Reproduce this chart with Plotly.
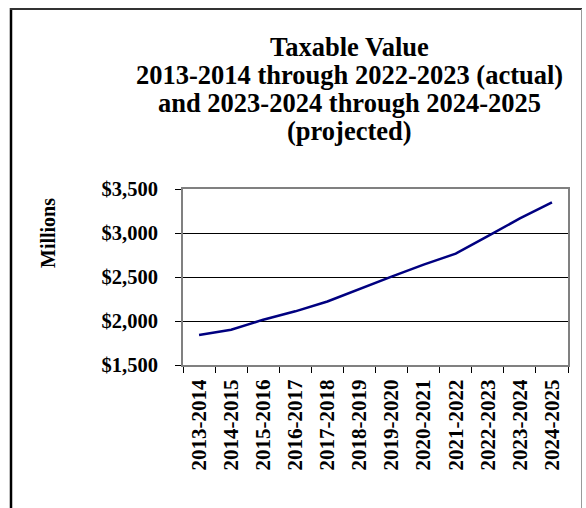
import plotly.graph_objects as go

# Fiscal years and taxable value (millions of dollars)
years = ["2013-2014", "2014-2015", "2015-2016", "2016-2017", "2017-2018", "2018-2019",
         "2019-2020", "2020-2021", "2021-2022", "2022-2023", "2023-2024", "2024-2025"]
taxable_value = [1842, 1900, 2015, 2110, 2222, 2365, 2505, 2640, 2765, 2965, 3165, 3348]

y_ticks = [1500, 2000, 2500, 3000, 3500]
y_tick_text = ["$1,500", "$2,000", "$2,500", "$3,000", "$3,500"]

title_lines = ["Taxable Value",
               "2013-2014 through 2022-2023 (actual)",
               "and 2023-2024 through 2024-2025",
               "(projected)"]

W, H = 586, 508
ML, MR, MT, MB = 183, 18, 189, 143
PW, PH = W - ML - MR, H - MT - MB
FONT = "Liberation Serif, Times New Roman, serif"


def px_x(px):
    return (px - ML) / PW


def px_y(py):
    return (H - MB - py) / PH


fig = go.Figure()
fig.add_trace(go.Scatter(
    x=years, y=taxable_value, mode="lines",
    line=dict(color="#000080", width=2.5),
    showlegend=False, hoverinfo="x+y",
))

annotations = []
for i, line in enumerate(title_lines):
    annotations.append(dict(
        text=f"<b>{line}</b>", xref="paper", yref="paper",
        x=px_x(349), y=px_y(47 + i * 28), xanchor="center", yanchor="middle",
        showarrow=False, font=dict(family=FONT, size=26.5, color="black"),
    ))
annotations.append(dict(
    text="<b>Millions</b>", xref="paper", yref="paper",
    x=px_x(48), y=px_y(233), xanchor="center", yanchor="middle",
    textangle=-90, showarrow=False, font=dict(family=FONT, size=20, color="black"),
))

# outer frame around the chart
shapes = [
    dict(type="line", xref="paper", yref="paper", x0=px_x(11), x1=px_x(11),
         y0=px_y(8), y1=px_y(530), line=dict(color="black", width=2.5)),
    dict(type="line", xref="paper", yref="paper", x0=px_x(10), x1=px_x(582),
         y0=px_y(9), y1=px_y(9), line=dict(color="#333333", width=2)),
    dict(type="line", xref="paper", yref="paper", x0=px_x(581.5), x1=px_x(581.5),
         y0=px_y(9), y1=px_y(530), line=dict(color="#9a9a9a", width=1)),
]

fig.update_layout(
    width=W, height=H,
    margin=dict(l=ML, r=MR, t=MT, b=MB),
    paper_bgcolor="white", plot_bgcolor="white",
    font=dict(family=FONT, color="black"),
    annotations=annotations, shapes=shapes,
    xaxis=dict(
        type="category", range=[-0.5, len(years) - 0.5],
        tickvals=years, ticktext=[f"<b>{y}</b>" for y in years],
        tickson="boundaries", ticks="outside", ticklen=6,
        tickcolor="black", tickwidth=1, tickangle=-90,
        tickfont=dict(family=FONT, size=21, color="black"),
        showline=True, linecolor="#808080", linewidth=2, mirror=True,
        showgrid=False, ticklabelstandoff=4, fixedrange=True,
    ),
    yaxis=dict(
        range=[1500, 3500], tickvals=y_ticks, ticktext=[f"<b>{t}</b>" for t in y_tick_text],
        ticks="outside", ticklen=6, tickcolor="black", tickwidth=1,
        tickfont=dict(family=FONT, size=20.5, color="black"),
        showline=True, linecolor="#808080", linewidth=2, mirror=True,
        showgrid=True, gridcolor="black", gridwidth=1, zeroline=False,
        ticklabelstandoff=13, fixedrange=True,
    ),
)

fig.write_html("out.html")
